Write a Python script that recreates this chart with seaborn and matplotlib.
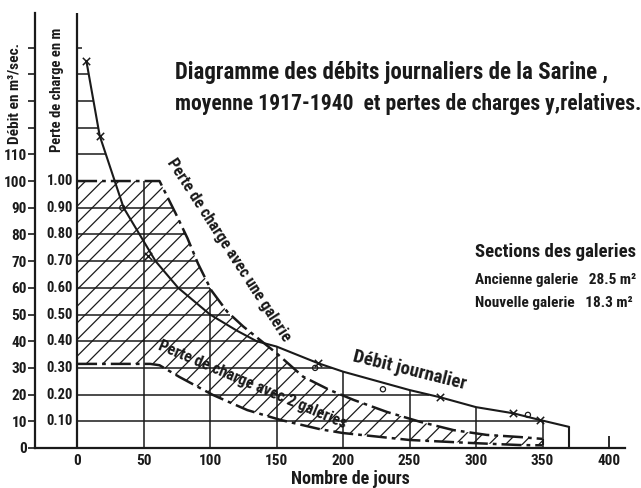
import numpy as np
import matplotlib
matplotlib.use("Agg")
import matplotlib.pyplot as plt
import seaborn as sns

# debit journalier de la Sarine (jours, m3/s)
debit_days = [7, 17, 29, 35, 47, 59, 76, 100, 120, 135, 150, 181, 200, 250, 273, 300, 328, 348, 370]
debit_vals = [145, 117, 99, 90, 80, 70, 60, 50, 44, 40, 38, 31.8, 28.6, 21.7, 19, 15.3, 13, 10.5, 7.9]

# points observes le long de la courbe
cross_days = [7, 17, 53, 181, 273, 328, 348]
cross_vals = [145, 117, 72, 31.8, 19, 13, 10.5]
circle_days = [34, 179, 230, 339]
circle_vals = [90, 30, 22, 12.4]

# perte de charge avec une galerie (echelle: 100 = 1.00 m)
p1_days = [0, 62, 74, 83, 91, 101, 113, 125, 140, 150, 170, 190, 208, 233, 258, 283, 308, 333, 350]
p1_vals = [100, 100, 88, 78.6, 69, 59, 51, 45.5, 39.5, 35.5, 26.7, 21.7, 18, 13.5, 9.8, 6.7, 4.9, 4.1, 3.4]

# perte de charge avec 2 galeries
p2_days = [0, 55, 62, 77, 102, 128, 153, 183, 200, 250, 295, 333, 350]
p2_vals = [31.5, 31.5, 31, 26.6, 19.9, 14.2, 10.5, 7, 5.6, 3, 1.9, 1.1, 1.0]

x_ticks = [0, 50, 100, 150, 200, 250, 300, 350, 400]
y_ticks = list(range(0, 160, 10))
y_labels = [str(v) if v <= 110 else "" for v in y_ticks]
perte_ticks = [10, 20, 30, 40, 50, 60, 70, 80, 90, 100]
perte_labels = ["0.10", "0.20", "0.30", "0.40", "0.50", "0.60", "0.70", "0.80", "0.90", "1.00"]

sns.set_theme(style="white", rc={"text.color": "k", "xtick.color": "k", "ytick.color": "k",
                                 "axes.edgecolor": "k"})
plt.rcParams["font.family"] = ["Roboto Condensed", "Liberation Sans Narrow", "Roboto", "DejaVu Sans"]
plt.rcParams["font.stretch"] = "condensed"
plt.rcParams["font.weight"] = "bold"
plt.rcParams["hatch.linewidth"] = 0.9

fig = plt.figure(figsize=(6.41, 4.88), dpi=100)
ax = fig.add_axes([0.0476, 0.082, 0.944, 0.9026])
ax.set_xlim(-35, 420)
ax.set_ylim(0, 165)

# zone hachuree entre les deux pertes de charge
ax.fill(np.r_[p1_days, p2_days[::-1]], np.r_[p1_vals, p2_vals[::-1]],
        fill=False, hatch="//", lw=0, edgecolor="k")

# grille limitee a l'enveloppe des courbes
dd, dv = np.array(debit_days), np.array(debit_vals)
def env_x(v):
    a = np.interp(v, dv[::-1], dd[::-1])
    b = np.interp(v, np.array(p1_vals)[::-1], np.array(p1_days)[::-1]) if v < 100 else 0
    return max(a, b)
def env_y(x):
    return max(np.interp(x, dd, dv), np.interp(x, p1_days, p1_vals))
for v in [10, 20, 30, 40, 50, 60, 70, 80, 90, 110, 120, 130, 140]:
    ax.hlines(v, 0, env_x(v), color="k", lw=1.1)
for x in [50, 100, 150, 200, 250, 300, 350]:
    ax.vlines(x, 0, env_y(x), color="k", lw=1.1)

# courbes
sns.lineplot(x=debit_days, y=debit_vals, color="k", lw=1.5, ax=ax, sort=False, estimator=None)
ax.vlines(debit_days[-1], 0, debit_vals[-1], color="k", lw=1.5)
sns.lineplot(x=p1_days, y=p1_vals, color="k", lw=1.8, ax=ax, sort=False, estimator=None,
             linestyle=(0, (8, 2, 1.5, 2)))
sns.lineplot(x=p2_days, y=p2_vals, color="k", lw=1.8, ax=ax, sort=False, estimator=None,
             linestyle=(0, (8, 2, 1.5, 2)))
ax.vlines(p1_days[-1], p2_vals[-1], p1_vals[-1], color="k", lw=1.5)
sns.scatterplot(x=cross_days, y=cross_vals, marker="x", color="k", s=28, linewidth=1.1, ax=ax)
sns.scatterplot(x=circle_days, y=circle_vals, marker="o", facecolor="none", edgecolor="k",
                s=14, linewidth=0.9, ax=ax)

# axes
for s in ["top", "right"]:
    ax.spines[s].set_visible(False)
ax.spines["left"].set_position(("data", -31.5))
ax.spines["left"].set_bounds(0, 163)
ax.spines["bottom"].set_bounds(-31.5, 412)
for s in ["left", "bottom"]:
    ax.spines[s].set_color("k")
    ax.spines[s].set_linewidth(1.6)
ax.vlines(0, 0, 163, color="k", lw=1.6)
ax.hlines(150, 0, 4, color="k", lw=1.1)
ax.vlines(400, 0, 4.5, color="k", lw=1.3)

ax.set_yticks(y_ticks)
ax.set_yticklabels(y_labels)
ax.set_xticks(x_ticks)
ax.set_xticklabels([str(v) for v in x_ticks])
ax.tick_params(axis="y", direction="out", length=5, width=1.2, color="k", pad=1,
               labelsize=11, left=True)
ax.tick_params(axis="x", length=0, pad=4, labelsize=11)
for t in ax.get_xticklabels() + ax.get_yticklabels():
    t.set_fontweight("bold")
    t.set_color("k")

for v, lab in zip(perte_ticks, perte_labels):
    ax.text(-3, v, lab, ha="right", va="center", fontsize=10.5, fontweight="bold")

fig.text(15 / 641, 1 - 94 / 488, "Débit en m³/sec.", rotation=90, ha="center", va="center",
         fontsize=11, fontweight="bold")
fig.text(57 / 641, 1 - 90 / 488, "Perte de charge en m", rotation=90, ha="center", va="center",
         fontsize=10.5, fontweight="bold")
fig.text(350 / 641, 1 - 479 / 488, "Nombre de jours", ha="center", va="center",
         fontsize=13, fontweight="bold")

fig.text(175 / 641, 1 - 72 / 488, "Diagramme des débits journaliers de la Sarine ,",
         ha="left", va="center", fontsize=16.5, fontweight="bold")
fig.text(175 / 641, 1 - 104 / 488, "moyenne 1917-1940  et pertes de charges y,relatives.",
         ha="left", va="center", fontsize=15.5, fontweight="bold")

fig.text(475 / 641, 1 - 252 / 488, "Sections des galeries", ha="left", va="center",
         fontsize=13.5, fontweight="bold")
fig.text(475 / 641, 1 - 280 / 488, "Ancienne galerie   28.5 m²", ha="left", va="center",
         fontsize=11, fontweight="bold")
fig.text(475 / 641, 1 - 303 / 488, "Nouvelle galerie   18.3 m²", ha="left", va="center",
         fontsize=11, fontweight="bold")

ax.text(114, 74, "Perte de charge avec une galerie", rotation=-57, ha="center", va="center",
        fontsize=11.7, fontweight="bold", rotation_mode="anchor")
ax.text(132, 23.5, "Perte de charge avec 2 galeries", rotation=-23, ha="center", va="center",
        fontsize=11.6, fontweight="bold", rotation_mode="anchor")
ax.text(250, 29, "Débit journalier", rotation=-14, ha="center", va="center",
        fontsize=13.5, fontweight="bold", rotation_mode="anchor")

fig.savefig("out.png", dpi=100, facecolor="white")
